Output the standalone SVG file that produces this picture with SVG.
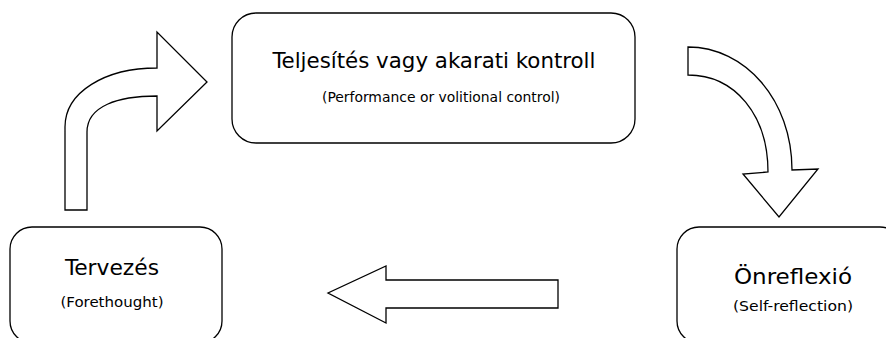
<svg xmlns="http://www.w3.org/2000/svg" width="886" height="338" viewBox="0 0 886 338">
<style>
.box{fill:#fff;stroke:#000;stroke-width:1.3}
.arr{fill:#fff;stroke:#000;stroke-width:1.3;stroke-linejoin:miter}
.t1{font-family:"DejaVu Sans Condensed","DejaVu Sans",Verdana,sans-serif;font-size:21px;fill:#000;text-anchor:middle}
.t2{font-family:"DejaVu Sans Condensed","DejaVu Sans",Verdana,sans-serif;font-size:14px;fill:#000;text-anchor:middle}
</style>
<rect width="886" height="338" fill="#fff"/>
<g id="connectors">
<path class="arr" d="M65,210 L65,127 C65,92 105,68 157,68 L157,32 L207,82 L157,131 L157,96 C118,96 87,106 87,132 L87,210 Z"/>
<path class="arr" d="M688,47 C745,47 792,100 792,170 L818,169 L779,217 L743,174 L768,172 C768,115 735,75 688,75 Z"/>
<path class="arr" d="M558,280 L386,280 L386,266 L328,293 L386,323 L386,308 L558,308 Z"/>
</g>
<g id="node-performance">
<rect class="box" x="232" y="13" width="403" height="130" rx="24"/>
<text class="t1" x="434" y="68" textLength="323" lengthAdjust="spacingAndGlyphs">Teljesítés vagy akarati kontroll</text>
<text class="t2" x="441" y="102" textLength="238" lengthAdjust="spacingAndGlyphs">(Performance or volitional control)</text>
</g>
<g id="node-forethought">
<rect class="box" x="10" y="227" width="212" height="116" rx="22"/>
<text class="t1" x="112" y="275" textLength="94" lengthAdjust="spacingAndGlyphs">Tervezés</text>
<text class="t2" x="112" y="307" textLength="103" lengthAdjust="spacingAndGlyphs">(Forethought)</text>
</g>
<g id="node-selfreflection">
<rect class="box" x="677" y="227" width="225" height="116" rx="22"/>
<text class="t1" x="793" y="284" textLength="118" lengthAdjust="spacingAndGlyphs">Önreflexió</text>
<text class="t2" x="793" y="311" textLength="120" lengthAdjust="spacingAndGlyphs">(Self-reflection)</text>
</g>
</svg>
